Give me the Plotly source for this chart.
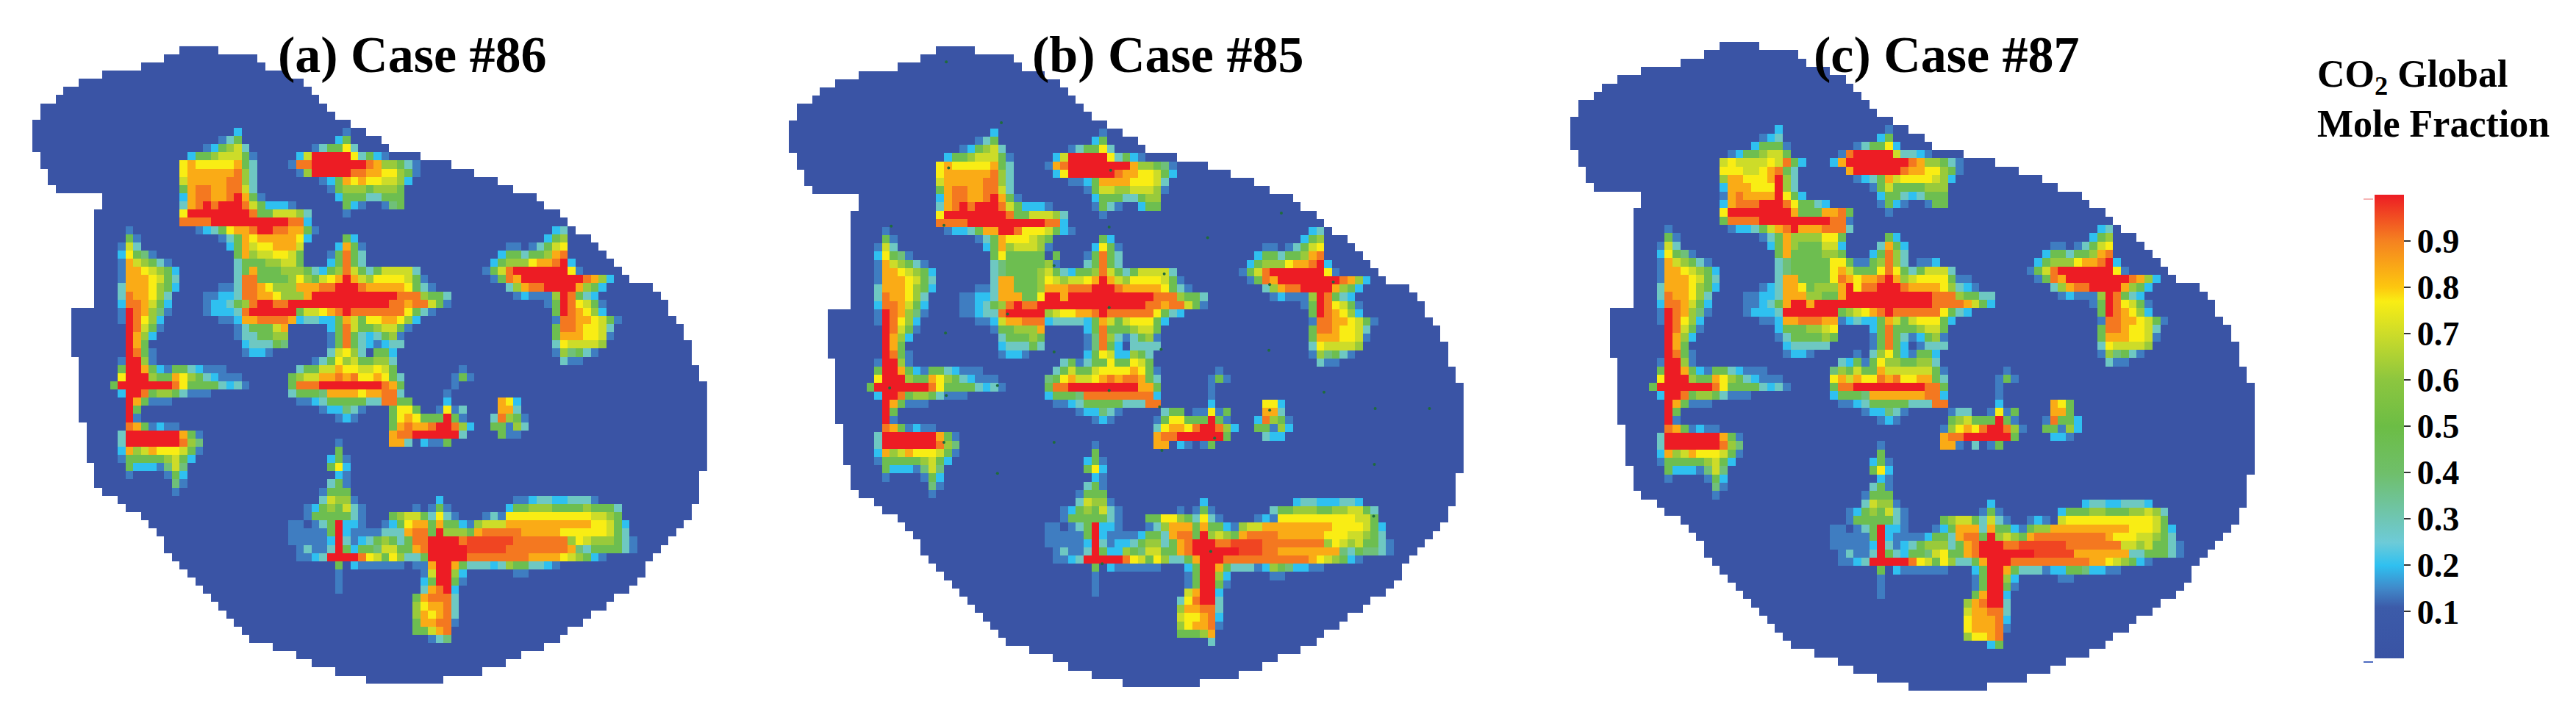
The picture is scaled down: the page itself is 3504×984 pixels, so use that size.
import plotly.graph_objects as go

# outline of the burner footprint: first and last filled column for each grid row
OUTLINE_LEFT = [19, 17, 14, 9, 6, 4, 3, 1, 1, 0, 0, 0, 0, 1, 1, 2, 2, 3, 9, 9,
                8, 8, 8, 8, 8, 8, 8, 8, 8, 8, 8, 8, 5, 5, 5, 5, 5, 5, 6, 6,
                6, 6, 6, 6, 6, 6, 7, 7, 7, 7, 7, 8, 8, 8, 9, 11, 12, 14, 15, 16,
                17, 17, 18, 19, 20, 21, 22, 23, 24, 25, 26, 27, 28, 31, 34, 36, 39, 43]
OUTLINE_RIGHT = [23, 28, 29, 32, 34, 35, 36, 37, 38, 40, 42, 44, 45, 49, 53, 56, 59, 61, 64, 65,
                 67, 68, 69, 71, 72, 73, 74, 75, 76, 79, 80, 81, 81, 82, 83, 83, 84, 84, 84, 85,
                 85, 86, 86, 86, 86, 86, 86, 86, 86, 86, 86, 86, 85, 85, 85, 85, 84, 84, 83, 82,
                 81, 80, 79, 78, 78, 77, 76, 74, 73, 71, 70, 68, 67, 65, 62, 60, 57, 52]

# codes, (row, first column, codes)
LEVELS = {"0": 0.02, "1": 0.14, "2": 0.2, "3": 0.28, "4": 0.38, "5": 0.47, "6": 0.62,
          "7": 0.7, "y": 0.77, "8": 0.84, "9": 0.91, "r": 0.96, "a": 1.0}

CORE = [
    (10, 26, "2"), (11, 24, "135"), (12, 22, "125673"), (13, 20, "255677751"),
    (14, 19, "y8yyyyy853"), (15, 19, "y888888963"), (16, 19, "7888889963"),
    (17, 19, "5899889973"), (18, 19, "2899889a851"),
    (19, 19, "389a9aaa9752221"), (20, 19, "yaaaaaaaa95577763"),
    (21, 19, "9999aaaaaaaaaa992"), (22, 21, "1235y889aa998851"),
    (23, 24, "1358y88888y2"), (23, 40, "52"),
    (24, 25, "2587yy8887"), (24, 39, "2851"),
    (25, 26, "58677yy75"), (25, 38, "15953"),
    (26, 26, "355566775"), (26, 38, "25953"),
    (27, 26, "358555666532569753577773"),
    (28, 26, "39955556y657y8a876yyyy751"),
    (29, 24, "113998y66688899aaa988888y531"),
    (30, 22, "112239988y6668aaaaaaaaaaa9996553"),
    (31, 22, "1223569aa99aaaaaaaaaaaaa99899751"),
    (32, 22, "122239aaaaaa577y89a9999999y531"),
    (33, 24, "11288999982332258"), (33, 41, "75yy88y62"),
    (34, 26, "1355578"), (34, 38, "25975567751"),
    (35, 26, "1335566"), (35, 38, "1595323561"),
    (36, 27, "233354"), (36, 38, "1595321233"),
    (37, 27, "1221"), (37, 38, "37y630552"),
    (38, 36, "135y6755663"), (39, 34, "355778yy77y75"), (39, 55, "1"),
    (40, 33, "567788989yy8y53"), (40, 54, "151"),
    (41, 33, "5999aaaaaaaa985"), (41, 54, "1"),
    (42, 33, "355548888y88993"), (42, 53, "1"),
    (43, 34, "112355555339955"), (43, 53, "2"),
    (44, 37, "122431"), (44, 46, "5yy5"), (44, 52, "1y13"),
    (45, 39, "121"), (45, 46, "5y8y555a51"),
    (46, 46, "589889aa962"), (47, 46, "899aaaaaa3"), (48, 46, "88302115"),
]

TOP_PLUME = [
    (10, 40, "1"), (11, 39, "25"), (12, 36, "1355y3"), (13, 34, "27aaaaay3521"),
    (14, 33, "199aaaaaaa9866531"), (15, 34, "16aaaaa9988yy651"),
    (16, 37, "1258y8yy7762"), (17, 38, "1566656665"), (18, 39, "255533555"),
    (19, 40, "521"), (19, 45, "145"), (20, 40, "1"),
]

LEFT_PLUME = [
    (22, 12, "1"), (23, 12, "51"), (24, 11, "173"), (25, 11, "2y541"), (26, 11, "1876531"),
    (27, 11, "188y7652"), (28, 11, "1888y753"), (29, 11, "3888y652"), (30, 11, "3988y63"),
    (31, 11, "2998752"), (32, 11, "1a98641"), (33, 11, "1a9y62"), (34, 12, "a9751"),
    (35, 12, "a862"), (36, 12, "a85"), (37, 12, "a951"), (38, 11, "1aa61"),
    (39, 11, "5aa85215532111"), (40, 11, "yaaa6558y6532111"), (41, 10, "5aaaaaaa9y55553231"),
    (42, 11, "2aa956653111"), (43, 12, "a85111"), (44, 12, "a5"), (45, 12, "a1"),
    (46, 12, "9851211"), (47, 11, "3aaaaaaa851"), (48, 11, "3aaaaaaa964"),
    (49, 11, "28678yyy751"), (50, 11, "1555556752"), (51, 12, "52221474"),
    (52, 12, "1"), (52, 17, "152"), (53, 18, "41"), (54, 18, "1"),
]

RIGHT_PLUME = [
    (22, 67, "23"), (23, 66, "256"), (24, 61, "11"), (24, 64, "1357y"), (25, 60, "255355689"),
    (26, 59, "25666y889a2"), (27, 58, "1579aaaaaaay1"), (28, 59, "1598aaaaaaaa9862"),
    (29, 61, "36899aaaa8652"), (30, 62, "121116a9532"), (31, 66, "15a9y751"),
    (32, 67, "5a98y62"), (33, 67, "19988y751"), (34, 67, "5998yy73"), (35, 67, "5888yy71"),
    (36, 67, "3y77776"), (37, 67, "164531"), (38, 68, "311"),
]

SMALL_PLUME = [
    (43, 60, "8y2"), (44, 60, "883"), (45, 59, "39651"), (46, 59, "55163"), (47, 60, "511"),
]

LOW_PLUME = [
    (48, 39, "1"), (49, 39, "5"), (50, 38, "251"), (51, 38, "5y2"), (52, 39, "21"),
    (53, 38, "351"), (54, 37, "1555"), (55, 37, "37661"), (55, 52, "2"), (55, 62, "11233223331"),
    (56, 35, "12565731"), (56, 49, "10151"), (56, 61, "255666555565553"),
    (57, 35, "15555531"), (57, 46, "567753y31"), (57, 58, "131"), (57, 61, "yyyyyyyyyyy7765"),
    (58, 33, "11"), (58, 36, "135a221"), (58, 45, "125y88585521"), (58, 57, "6777"),
    (58, 61, "88888888888yy752"),
    (59, 33, "111115a2111"), (59, 44, "13338995a666589999988888yyyyyy753"),
    (60, 33, "111112a3123"), (60, 44, "5653599aaaa9rrrrrr99999996y7666531"),
    (61, 34, "13113a5255"), (61, 44, "4775589aaaaarrrrr99999999843555531"),
    (62, 34, "1123aaaa9y7"), (62, 45, "5y6335aaaaa999999998888y76521"),
    (63, 39, "5"), (63, 41, "2111111"), (63, 49, "118aa85333236553321"),
    (64, 39, "1"), (64, 50, "17aa62"), (64, 62, "11"),
    (65, 39, "1"), (65, 50, "25aa51"), (66, 39, "1"), (66, 50, "389a2"),
    (67, 49, "589993"), (68, 49, "6y8893"), (69, 49, "68y893"), (70, 49, "588991"),
    (71, 49, "55789"), (72, 51, "134"),
]

# where case 85 reads differently from case 86
EDITS_85 = [
    (14, 33, "189aaaaaaaa866541"), (15, 34, "2yaaaaaa988yy752"), (16, 36, "11258888yyy73"),
    (17, 38, "15776677761"), (18, 39, "255533566"), (19, 39, "153100255"), (20, 40, "1"),
    (22, 20, "1223588aa9yyy752"), (23, 24, "1358yyy76500"),
    (24, 25, "2586777610"), (24, 39, "2y51"), (25, 26, "5y555550"),
    (26, 26, "345555561"), (26, 38, "35953"), (27, 26, "345555675325569753577773"),
    (28, 26, "3885556y767"), (29, 24, "11388555688899"), (30, 23, "122388855yaa"),
    (31, 23, "123569a99a"), (32, 23, "12339aaaaa67yy889a999999y5320"),
    (33, 26, "278899923333258757yyy520"),
    (34, 26, "1556668"), (34, 38, "25955567750"), (35, 26, "0355565"), (35, 38, "1496313561"),
    (36, 27, "233353"), (36, 38, "149520333"), (37, 38, "25y722653"),
    (38, 35, "351355y55y75"), (39, 34, "357557yyyy8y51"), (40, 33, "45y877y89899853"),
    (41, 33, "599aaaaaaaaa885"), (42, 33, "255549999999992"), (42, 53, "01"),
    (43, 45, "39900"), (43, 53, "02"), (43, 60, "0yy2"),
    (44, 46, "0035500"), (44, 52, "11y15"), (44, 60, "0883"),
    (45, 46, "015yy555a51"), (45, 59, "029651"),
    (46, 46, "03y88y9aa962"), (46, 59, "055162"),
    (47, 46, "0899aaaaaa5"), (47, 60, "0322"), (48, 46, "088021015"),
    (55, 52, "02"), (55, 62, "000233222332"),
    (56, 49, "010151"), (56, 61, "035566655667753"),
    (57, 47, "5yy653y31"), (57, 58, "00121"), (57, 63, "yyyyyyyyyy775"),
    (58, 45, "0"), (58, 46, "136888585521677888888888yyyy752"),
    (59, 45, "25538995a676589999888888yyy77653"),
    (60, 43, "235663589aaa99rrrr999999996y7675531"),
    (61, 42, "2654775589aaaaaarrr998888888843 54431".replace(" ", "")),
    (62, 42, "a9y75y63358aaa999999999998y76521"),
    (63, 49, "0025aa85333126542211"), (64, 50, "015aa62"), (65, 50, "015aa510"),
    (66, 50, "078aa2"), (67, 49, "03y9aa3"), (68, 49, "0688993"), (69, 49, "07yy892"),
    (70, 49, "06y8891"), (71, 49, "055568"), (72, 51, "0003"),
]

# where case 87 reads differently from case 86
EDITS_87 = [
    (11, 24, "123"), (12, 22, "025551"), (13, 20, "125567750"), (14, 19, "7y7777y7952"),
    (15, 19, "yyy77y8953"), (16, 19, "688yyy8a63"), (17, 19, "2888yyya63"),
    (18, 19, "1898888ay52"), (19, 19, "28999aaa9y55320"), (20, 19, "yaaaaaaaa85558895"),
    (21, 19, "59999aaaaaaaaa991"), (22, 20, "12235789a88899930"), (23, 24, "13586666yy50"),
    (24, 25, "2586555772"), (24, 39, "3852"), (25, 26, "58555566"), (25, 38, "25963"),
    (26, 26, "3455555yy511569630112"), (27, 26, "3455555y87555y9y53577730"),
    (28, 26, "3885555y98y889a867yyyy51"), (29, 24, "12388y56668ay99aaa98888y6321"),
    (30, 23, "122388866558aaaaaaaaaaa9996553"),
    (31, 23, "12358aa8aaaaaaaaaaaaaaa99998752"),
    (32, 24, "223aaaaaaa567y89a999999y5320"), (33, 25, "1288999881232258757yyy520"),
    (34, 26, "2555667y"), (34, 38, "25955567750"), (35, 26, "13555565"), (35, 38, "1595312561"),
    (36, 27, "233333"), (36, 38, "159520133"), (37, 36, "1036y521552"),
    (38, 34, "32515y6655663"), (39, 33, "465755877777751"), (40, 33, "y878yy989yy8853"),
    (41, 33, "599aaaaaaaaa995"), (42, 33, "255548888888992"), (42, 53, "01"),
    (12, 36, "1355y2"), (13, 34, "19aaaaa73321"), (14, 33, "28aaaaaaaa9866531"),
    (15, 34, "08aaaaaa988yy651"), (16, 36, "123587yyyy762"), (17, 38, "15755556660"),
    (18, 39, "255323555"), (19, 39, "152100155"), (20, 40, "1"),
    (43, 45, "39900"), (43, 53, "02"), (43, 60, "08y5"),
    (44, 46, "00133000"), (44, 52, "01y15"), (44, 60, "0885"),
    (45, 46, "00567555a51"), (45, 59, "019552"),
    (46, 46, "016y8y9aa961"), (46, 59, "055162"),
    (47, 46, "0899aaaaaa5"), (47, 60, "0221"), (48, 46, "088103015"),
    (55, 52, "02"), (55, 62, "000233223332"), (56, 49, "000151"),
    (56, 61, "025556655566763"),
    (57, 46, "0567753731"), (57, 58, "121"), (57, 61, "07yyyyyyyyyyy75"),
    (58, 45, "0125888385521566"), (58, 61, "8888888888yyy752"),
    (59, 45, "25538995a67658999999999 8yyy77653".replace(" ", "")),
    (60, 42, "2356663589aaa99rrrrrr999999977675531"),
    (61, 41, "325547y5589aaaaaaarrrrr88888883355531"),
    (62, 41, "aa9y75y63358aaa999999999988y76521"),
    (63, 49, "0025aa853331225542211"),
    (64, 50, "015aa62"), (65, 50, "015aa51"), (66, 50, "058aa2"), (67, 49, "0689aa3"),
    (68, 49, "0788993"), (69, 49, "0y88892"), (70, 49, "0y88891"), (71, 49, "06yy89"),
    (72, 51, "0025"),
]

# dark specks that only appear in case 85, (column, row)
SPECK_COLS = [19.8, 26.9, 12.7, 53.5, 40.8, 33.7, 47.9, 63, 61.4, 19.7, 68.5, 75.1, 82.1, 75, 33.7,
              26.4, 47.5, 33.7, 20.1, 41, 19.5, 27.7, 40.8, 40.8, 12.5, 19.8, 26.4, 61.5, 47.6,
              54.4, 53.9, 39.9, 74.9, 69.7, 61.5, 19.5, 47.3]
SPECK_ROWS = [1.4, 8.8, 21.4, 22.8, 21.5, 26.2, 27.2, 19.8, 36.5, 34.4, 41.6, 43.6, 43.6, 50.4, 47.7,
              51.5, 36.4, 36.7, 14.3, 14.6, 21.3, 32.1, 31.3, 41.4, 41.1, 42, 40.8, 43.8, 48.7,
              47.2, 61, 62.5, 56.7, 28.2, 28.5, 47.7, 43.4]

CASE_TITLES = ["(a) Case #86", "(b) Case #85", "(c) Case #87"]
TICK_VALUES = [0.1, 0.2, 0.3, 0.4, 0.5, 0.6, 0.7, 0.8, 0.9]

W, H = 3504, 984
BLOCKS = [CORE, TOP_PLUME, LEFT_PLUME, RIGHT_PLUME, SMALL_PLUME, LOW_PLUME]
COLORS = [[0, "#3953a4"], [0.11, "#3c5ba9"], [0.15, "#4088c9"], [0.2, "#2fc0f0"],
          [0.25, "#6dcbd8"], [0.3, "#6fc6b4"], [0.4, "#6fbf6a"], [0.5, "#6cbd45"],
          [0.6, "#8cc63f"], [0.7, "#cddc29"], [0.77, "#f9ed14"], [0.8, "#fdc70f"],
          [0.9, "#f58220"], [1, "#ed1c24"]]


def build_grid(edits):
    grid = [[None] * 87 for _ in OUTLINE_LEFT]
    for r, (a, b) in enumerate(zip(OUTLINE_LEFT, OUTLINE_RIGHT)):
        for c in range(a, b + 1):
            grid[r][c] = LEVELS["0"]
    for rows in BLOCKS + [edits]:
        for r, c0, codes in rows:
            for i, ch in enumerate(codes):
                if ch == "0" and grid[r][c0 + i] is None:
                    continue
                grid[r][c0 + i] = LEVELS[ch]
    return grid


fig = go.Figure()
panels = [([], 36, 10.55, 54.7, 11.13, 552),
          (EDITS_85, 1065, 10.55, 55, 11.18, 1580),
          (EDITS_87, 2128, 10.7, 49, 11.32, 2640)]

for i, (edits, x0, dx, y0, dy, tx) in enumerate(panels):
    n = "" if i == 0 else str(i + 1)
    fig.add_trace(go.Heatmap(z=build_grid(edits), coloraxis="coloraxis",
                             xaxis="x" + n, yaxis="y" + n, hoverongaps=False))
    fig.update_layout({
        "xaxis" + n: dict(domain=[x0 / W, (x0 + 87 * dx) / W], range=[-0.5, 86.5], visible=False),
        "yaxis" + n: dict(domain=[1 - (y0 + 78 * dy) / H, 1 - y0 / H], range=[77.5, -0.5], visible=False),
    })
    fig.add_annotation(text="<b>" + CASE_TITLES[i] + "</b>", x=tx / W, y=1 - 66 / H,
                       xref="paper", yref="paper", xanchor="center", yanchor="middle", showarrow=False,
                       font=dict(family="Liberation Serif", size=70, color="black"))

fig.add_trace(go.Scatter(x=SPECK_COLS, y=SPECK_ROWS, xaxis="x2", yaxis="y2", mode="markers",
                         marker=dict(color="#1f6b3c", size=4), showlegend=False))

fig.add_annotation(text="<b>CO<sub>2</sub> Global<br>Mole Fraction</b>", x=3142 / W, y=1 - 126 / H,
                   xref="paper", yref="paper", xanchor="left", yanchor="middle", align="left",
                   showarrow=False, font=dict(family="Liberation Serif", size=52, color="black"))

# small end marks beside the colour bar
fig.add_shape(type="line", xref="paper", yref="paper", x0=3207 / W, x1=3220 / W,
              y0=1 - 263 / H, y1=1 - 263 / H, line=dict(color="#f6b5b5", width=2))
fig.add_shape(type="line", xref="paper", yref="paper", x0=3207 / W, x1=3220 / W,
              y0=1 - 893 / H, y1=1 - 893 / H, line=dict(color="#4d6ac0", width=2))

fig.update_layout(
    width=W, height=H,
    margin=dict(l=0, r=0, t=0, b=0),
    paper_bgcolor="white", plot_bgcolor="white",
    coloraxis=dict(
        cmin=0, cmax=1, colorscale=COLORS,
        colorbar=dict(
            x=3222 / W, xanchor="left", xpad=0, thickness=40, thicknessmode="pixels",
            y=1 - 572 / H, yanchor="middle", ypad=0, len=631 / H, lenmode="fraction",
            outlinewidth=0, tickmode="array", tickvals=TICK_VALUES,
            ticktext=["<b>%.1f</b>" % v for v in TICK_VALUES],
            ticks="outside", ticklen=9, tickwidth=2, tickcolor="#333333",
            tickfont=dict(family="Liberation Serif", size=46, color="black"),
        ),
    ),
)

fig.write_html("out.html")
